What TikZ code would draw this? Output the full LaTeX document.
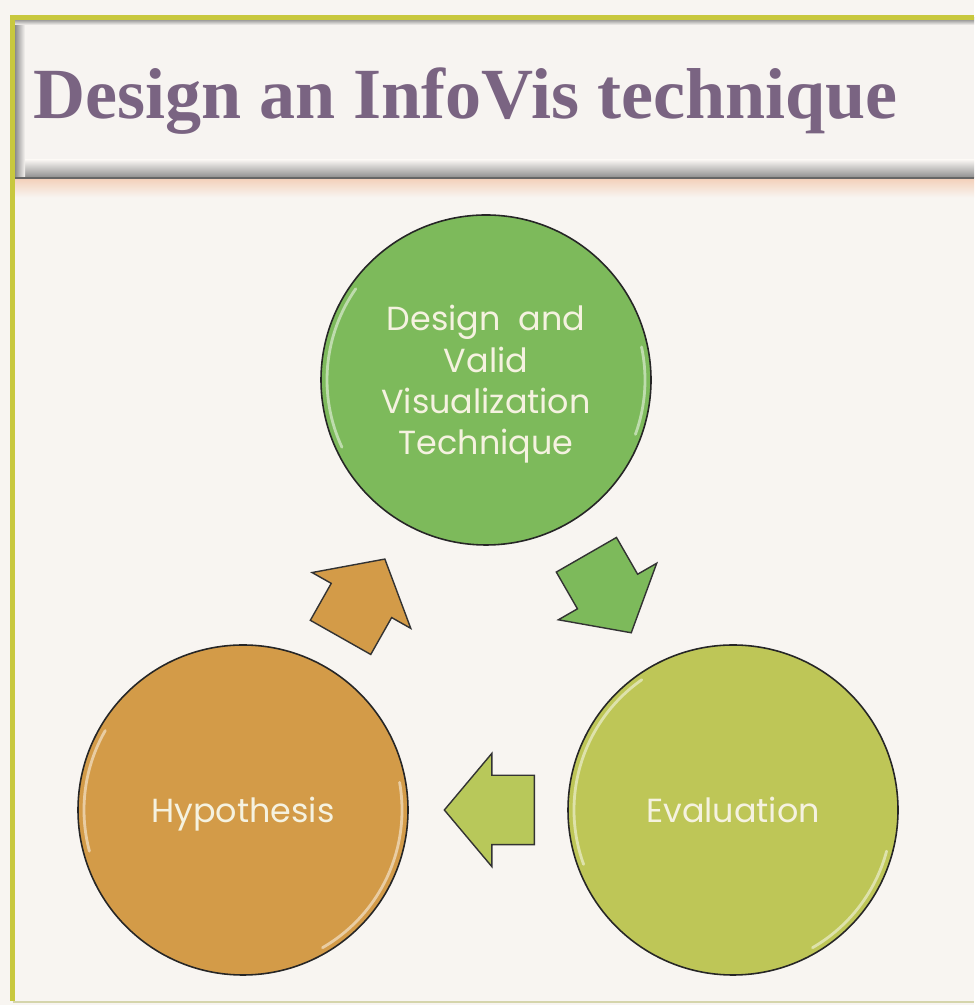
\documentclass[tikz,border=0pt]{standalone}
\usepackage{fontspec}
\setmainfont{Liberation Serif}
\newfontfamily\roundfont{Poppins}
\usetikzlibrary{shapes.arrows,calc}

\definecolor{slidebg}{HTML}{F8F5F1}
\definecolor{titlebg}{HTML}{F7F4F1}
\definecolor{framegreen}{HTML}{C8C83E}
\definecolor{peach}{HTML}{F3CFB8}
\definecolor{titleviolet}{HTML}{7A6482}
\definecolor{designgreen}{HTML}{7DBA5B}
\definecolor{hypoorange}{HTML}{D39B48}
\definecolor{evalolive}{HTML}{BEC657}
\definecolor{arrowolive}{HTML}{B8C85A}
\definecolor{bubbletext}{HTML}{F5F2E0}

\tikzset{
    bubble/.style={circle, draw=black!85, line width=0.9pt, minimum size=6.6cm,
        text=bubbletext, align=center, text depth=0pt,
        font=\roundfont\fontsize{19}{23.5}\selectfont},
    flow/.style={single arrow, draw=black!80, line width=0.8pt, inner xsep=0pt,
        inner ysep=0.68cm, single arrow head extend=0.44cm,
        single arrow tip angle=100, minimum height=1.8cm, anchor=tail},
    glint/.style={white, opacity=0.5, line width=1.6pt, line cap=round}
}

\begin{document}
\begin{tikzpicture}
    % 背景
    \fill[slidebg] (0,0) rectangle (19.48,20.1);
    \useasboundingbox (0,0) rectangle (19.48,20.1);

    % タイトルの枠
    \shade[top color=peach, bottom color=slidebg] (0.25,16.54) rectangle (19.48,16.15);
    \fill[titlebg] (0.25,16.54) rectangle (19.48,19.75);
    \shade[top color=titlebg, bottom color=black!45] (0.25,16.9) rectangle (19.48,16.54);
    \shade[left color=black!45, right color=titlebg] (0.3,16.54) rectangle (0.5,19.75);
    \shade[top color=black!55, bottom color=titlebg] (0.3,19.75) rectangle (19.48,19.6);
    \draw[black!60, line width=0.8pt] (0.3,16.54) -- (19.48,16.54);

    % 外枠
    \draw[framegreen, line width=0.1cm] (0.25,0.08) -- (0.25,19.75) -- (19.48,19.75);
    \draw[black!25!framegreen!40, line width=0.8pt] (0.25,0.06) -- (19.48,0.06);

    % タイトル
    \node[anchor=base west, inner sep=0pt, text=titleviolet,
        font=\bfseries\fontsize{41}{41}\selectfont] (title) at (0.66,17.72)
        {Design an InfoVis technique};

    % 円
    \node[bubble, fill=designgreen] (design) at (9.72,12.5)
        {Design\ \ and\\Valid\\Visualization\\Technique};
    \node[bubble, fill=hypoorange] (hypo) at (4.86,3.9) {Hypothesis};
    \node[bubble, fill=evalolive] (eval) at (14.66,3.9) {Evaluation};

    % 光沢
    \draw[glint] (design.center) ++(145:3.18) arc[start angle=145, end angle=205, radius=3.18];
    \draw[glint] (design.center) ++(-20:3.18) arc[start angle=-20, end angle=12, radius=3.18];
    \draw[glint] (hypo.center) ++(-60:3.18) arc[start angle=-60, end angle=10, radius=3.18];
    \draw[glint] (hypo.center) ++(150:3.18) arc[start angle=150, end angle=195, radius=3.18];
    \draw[glint] (eval.center) ++(125:3.18) arc[start angle=125, end angle=200, radius=3.18];
    \draw[glint] (eval.center) ++(-60:3.18) arc[start angle=-60, end angle=-15, radius=3.18];

    % 矢印
    \node[flow, fill=hypoorange, rotate=60.5] (toDesign) at ($(hypo)!0.4!(design)$) {};
    \node[flow, fill=designgreen, rotate=-60.1] (toEval) at ($(design)!0.405!(eval)$) {};
    \node[flow, fill=arrowolive, rotate=180] (toHypo) at ($(eval)!0.404!(hypo)$) {};
\end{tikzpicture}
\end{document}
